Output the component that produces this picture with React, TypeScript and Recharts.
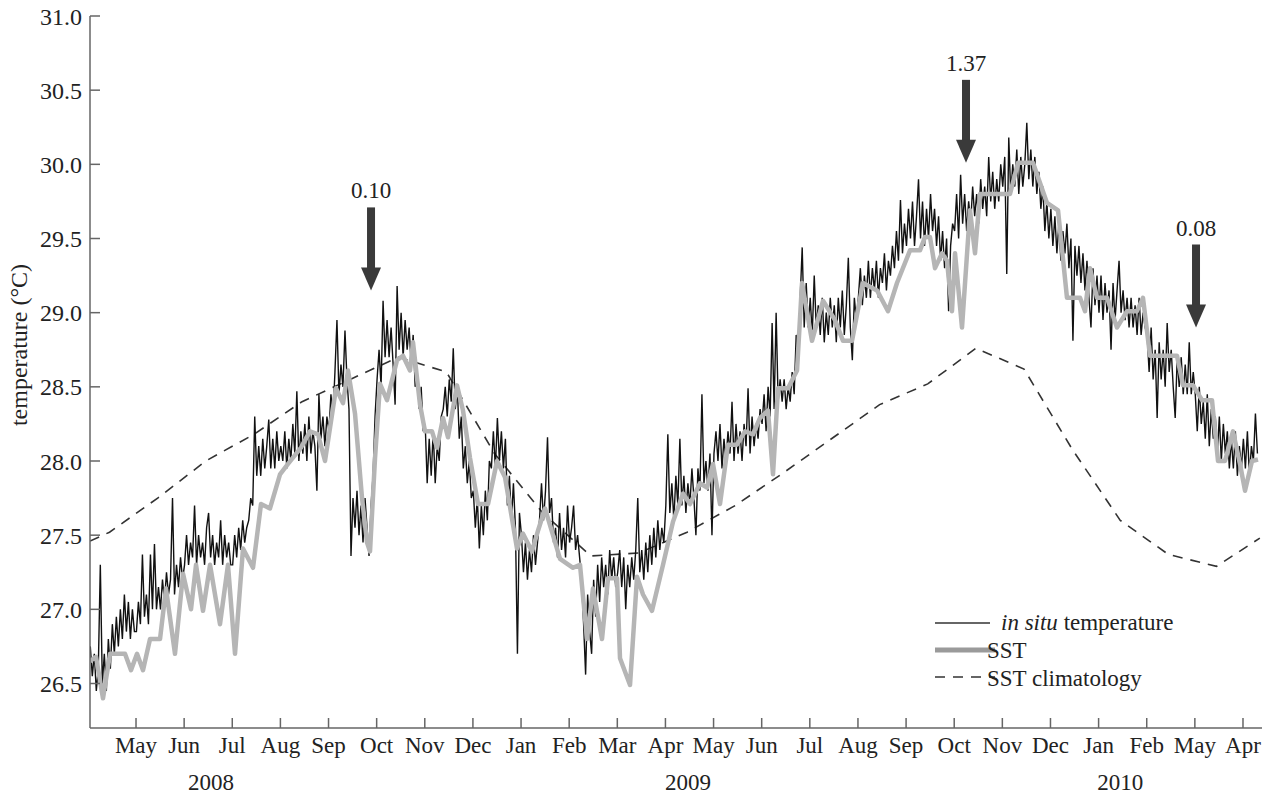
import React from "react";
import { LineChart, Line, XAxis, YAxis, ReferenceDot } from "recharts";

const FONT = "'Liberation Serif', 'Times New Roman', serif";
const INK = "#222";
const AXIS = "#666";

// x axis: months since 1 May 2008 (0 = May 2008 tick)
const monthLabels = [
  "May", "Jun", "Jul", "Aug", "Sep", "Oct", "Nov", "Dec", "Jan", "Feb", "Mar", "Apr",
  "May", "Jun", "Jul", "Aug", "Sep", "Oct", "Nov", "Dec", "Jan", "Feb", "May", "Apr",
];
const monthTicks = monthLabels.map((_, i) => i);
const yearLabels = ["2008", "2009", "2010"];
const yearPos = [1.56, 11.47, 20.45];
const tempTicks = [26.5, 27.0, 27.5, 28.0, 28.5, 29.0, 29.5, 30.0, 30.5, 31.0];
const X_DOMAIN: [number, number] = [-0.956, 23.395];

const IN_SITU_START = -0.95;
const IN_SITU_STEP = 1 / 24;
const inSitu2008 = [
  26.75, 26.55, 26.7, 26.45, 26.6, 27.3, 26.5, 26.7, 26.45, 26.8, 26.6, 26.9, 26.7, 26.95, 26.75, 27.0, 26.8, 27.1, 26.85, 27.05, 26.8, 27.0, 26.85, // Apr
  26.85, 27.05, 26.9, 27.37, 26.95, 27.1, 26.9, 27.37, 27.0, 27.44, 27.0, 27.15, 27.0, 27.2, 27.05, 27.25, 27.1, 27.2, 27.75, 27.1, 27.3, 27.15, 27.35, 27.2, // May
  27.3, 27.5, 27.3, 27.45, 27.35, 27.7, 27.3, 27.5, 27.35, 27.45, 27.3, 27.55, 27.65, 27.35, 27.5, 27.3, 27.45, 27.35, 27.6, 27.3, 27.5, 27.35, 27.45, 27.3, // Jun
  27.3, 27.5, 27.35, 27.55, 27.4, 27.6, 27.45, 27.55, 27.6, 27.75, 27.7, 28.3, 27.9, 28.1, 27.9, 28.15, 27.95, 28.1, 28.28, 27.95, 28.15, 27.95, 28.2, 28.0, // Jul
  28.1, 28.0, 28.2, 27.95, 28.15, 28.0, 28.25, 28.05, 28.47, 28.0, 28.2, 28.05, 28.25, 28.0, 28.3, 28.05, 28.2, 28.1, 27.8, 28.45, 28.15, 28.3, 28.1, 28.3, // Aug
  28.2, 28.45, 28.3, 28.6, 28.95, 28.45, 28.65, 28.5, 28.88, 28.55, 28.35, 27.36, 27.75, 27.55, 27.8, 27.5, 27.7, 27.45, 27.75, 27.55, 27.36, 27.7, 27.9, 28.3, // Sep
  28.55, 28.75, 28.5, 29.08, 28.7, 28.95, 28.7, 28.9, 28.65, 28.38, 29.18, 28.75, 29.0, 28.7, 28.95, 28.75, 28.9, 28.65, 28.85, 28.5, 28.6, 28.35, 28.5, 28.2, // Oct
  28.25, 27.85, 28.15, 27.9, 28.2, 27.85, 28.1, 28.0, 28.3, 28.35, 28.5, 28.3, 28.55, 28.4, 28.76, 28.35, 28.5, 28.15, 28.3, 27.95, 28.1, 27.85, 28.0, 27.75, // Nov
  27.8, 27.55, 27.75, 27.41, 27.7, 27.5, 27.8, 27.6, 28.0, 27.95, 28.2, 27.95, 28.29, 28.0, 28.2, 27.95, 28.15, 27.7, 27.9, 27.6, 27.85, 27.55, 26.7, 27.65, // Dec
];
const inSitu2009 = [
  27.5, 27.25, 27.45, 27.2, 27.4, 27.25, 27.5, 27.3, 27.45, 27.6, 27.85, 27.6, 27.8, 28.16, 27.65, 27.75, 27.45, 27.55, 27.35, 27.65, 27.4, 27.55, 27.35, 27.7, // Jan
  27.45, 27.55, 27.7, 27.4, 27.5, 27.35, 27.2, 26.9, 26.56, 27.1, 26.85, 26.7, 27.2, 26.95, 27.3, 27.05, 27.35, 27.15, 27.3, 27.1, 27.4, 27.2, 27.35, 27.15, // Feb
  27.25, 27.4, 27.15, 27.35, 27.0, 27.3, 27.15, 27.35, 27.2, 27.4, 27.75, 27.25, 27.4, 27.2, 27.45, 27.25, 27.5, 27.3, 27.55, 27.35, 27.6, 27.4, 27.55, 27.45, // Mar
  27.7, 28.18, 27.65, 27.85, 27.6, 27.9, 27.7, 28.15, 27.7, 27.9, 27.65, 27.85, 27.7, 27.95, 27.75, 27.5, 27.95, 27.8, 28.45, 27.85, 28.0, 27.8, 28.05, 27.5, // Apr
  28.05, 28.2, 28.0, 28.25, 27.95, 28.15, 28.0, 28.2, 28.05, 28.4, 28.0, 28.25, 28.05, 28.2, 28.0, 28.25, 28.1, 28.49, 28.05, 28.3, 28.1, 28.25, 28.15, 28.35, // May
  28.25, 28.45, 28.2, 28.5, 28.3, 28.93, 28.35, 29.0, 28.4, 28.55, 28.4, 28.55, 28.35, 28.5, 28.4, 28.6, 28.45, 28.85, 28.7, 29.1, 29.44, 28.9, 29.2, 28.9, // Jun
  29.1, 28.85, 29.25, 28.9, 29.05, 28.85, 29.1, 28.8, 29.0, 28.85, 29.1, 28.9, 29.05, 28.8, 29.1, 28.9, 29.15, 28.85, 29.05, 29.37, 28.9, 28.68, 29.1, 28.95, // Jul
  29.1, 29.3, 29.05, 29.25, 29.1, 29.35, 29.1, 29.3, 29.15, 29.35, 29.1, 29.3, 29.2, 29.4, 29.15, 29.35, 29.25, 29.45, 29.3, 29.55, 29.35, 29.76, 29.4, 29.6, // Aug
  29.45, 29.7, 29.5, 29.75, 29.45, 29.65, 29.9, 29.5, 29.75, 29.45, 29.7, 29.5, 29.8, 29.55, 29.7, 29.45, 29.65, 29.35, 29.55, 29.3, 29.5, 29.01, 29.45, 29.6, // Sep
  29.55, 29.8, 29.5, 29.93, 29.6, 29.8, 29.55, 29.75, 29.6, 29.85, 29.65, 29.8, 29.6, 29.9, 29.7, 29.85, 29.65, 30.05, 29.75, 29.95, 29.7, 29.9, 29.75, 30.0, // Oct
  29.85, 30.05, 29.26, 30.18, 29.8, 30.0, 29.85, 30.1, 29.8, 30.05, 29.85, 30.0, 30.28, 29.9, 30.1, 29.85, 30.05, 29.8, 29.95, 29.7, 29.85, 29.55, 29.75, 29.5, // Nov
  29.7, 29.45, 29.65, 29.4, 29.6, 29.35, 29.55, 29.4, 29.6, 29.3, 29.5, 28.81, 29.45, 29.25, 29.45, 29.2, 29.4, 29.15, 29.35, 29.1, 28.9, 29.3, 29.05, 29.25, // Dec
];
const inSitu2010 = [
  29.0, 29.25, 28.95, 29.2, 29.0, 29.15, 28.75, 29.2, 28.95, 29.15, 29.35, 29.0, 29.15, 28.95, 29.1, 28.9, 29.1, 28.9, 29.05, 28.85, 29.1, 28.85, 29.0, 28.9, // Jan
  28.85, 28.6, 28.9, 28.55, 28.75, 28.29, 28.8, 28.55, 28.75, 28.5, 28.93, 28.6, 28.75, 28.5, 28.29, 28.7, 28.5, 28.7, 28.45, 28.65, 28.45, 28.8, 28.45, 28.6, // Feb
  28.45, 28.2, 28.5, 28.25, 28.4, 28.15, 28.45, 28.1, 28.35, 28.15, 28.3, 28.05, 28.3, 28.0, 28.25, 28.05, 28.2, 27.95, 28.15, 27.95, 28.2, 27.9, 28.1, 27.95, // Mar
  28.15, 27.95, 28.2, 27.9, 28.1, 28.0, 28.32, 28.05, // Apr
];

// satellite SST (month index, degC)
const sstX = [
  -0.956, -0.831, -0.686, -0.54, -0.229, -0.104, 0.021, 0.145, 0.291, 0.499, 0.623, 0.81,
  0.977, 1.143, 1.247, 1.392, 1.538, 1.745, 1.911, 2.057, 2.223, 2.431, 2.597, 2.784,
  2.992, 3.158, 3.428, 3.615, 3.781, 3.927, 4.155, 4.301, 4.405, 4.55, 4.696, 4.8,
  4.862, 4.966, 5.07, 5.215, 5.423, 5.547, 5.693, 5.755, 5.901, 6.005, 6.15, 6.254,
  6.379, 6.482, 6.669, 6.794, 6.94, 7.106, 7.314, 7.501, 7.667, 7.916, 8.041, 8.228,
  8.352, 8.498, 8.81, 9.08, 9.225, 9.371, 9.495, 9.682, 9.807, 9.994, 10.056, 10.264,
  10.41, 10.534, 10.721, 10.95, 11.157, 11.365, 11.51, 11.718, 11.864, 11.988, 12.134, 12.3,
  12.487, 12.653, 12.819, 12.965, 13.131, 13.235, 13.339, 13.547, 13.734, 13.838, 14.045, 14.274,
  14.523, 14.69, 14.877, 15.105, 15.396, 15.625, 15.811, 16.082, 16.289, 16.393, 16.497, 16.601,
  16.746, 16.85, 16.954, 17.017, 17.162, 17.328, 17.432, 17.536, 18.159, 18.325, 18.637, 18.928,
  19.157, 19.343, 19.614, 19.718, 19.821, 19.967, 20.175, 20.382, 20.59, 20.798, 20.922, 21.068,
  21.629, 21.754, 21.962, 22.149, 22.356, 22.481, 22.626, 22.792, 22.938, 23.042, 23.187, 23.312,
];
const sstT = [
  26.65, 26.68, 26.4, 26.7, 26.7, 26.59, 26.7, 26.59, 26.8, 26.8, 27.14, 26.7,
  27.24, 27.0, 27.3, 26.99, 27.3, 26.9, 27.3, 26.7, 27.41, 27.28, 27.71, 27.68,
  27.91, 27.98, 28.09, 28.2, 28.18, 28.0, 28.49, 28.39, 28.61, 28.32, 27.75, 27.45,
  27.39, 28.02, 28.52, 28.41, 28.68, 28.71, 28.61, 28.8, 28.38, 28.2, 28.2, 28.09,
  28.29, 28.16, 28.51, 28.34, 28.02, 27.71, 27.71, 28.0, 27.89, 27.41, 27.51, 27.39,
  27.53, 27.68, 27.34, 27.28, 27.3, 26.8, 27.14, 26.8, 27.21, 27.21, 26.67, 26.49,
  27.22, 27.1, 26.99, 27.3, 27.59, 27.78, 27.71, 27.85, 27.82, 27.98, 27.71, 28.11,
  28.11, 28.2, 28.18, 28.29, 28.34, 27.91, 28.49, 28.49, 28.61, 29.2, 28.81, 29.08,
  28.95, 28.81, 28.81, 29.2, 29.15, 29.01, 29.2, 29.42, 29.42, 29.51, 29.51, 29.3,
  29.4, 29.35, 29.01, 29.4, 28.9, 29.69, 29.4, 29.8, 29.8, 30.01, 30.01, 29.74,
  29.69, 29.1, 29.1, 29.01, 29.3, 29.1, 29.1, 28.9, 29.01, 29.01, 29.1, 28.71,
  28.71, 28.51, 28.51, 28.41, 28.41, 28.0, 28.0, 28.2, 27.98, 27.8, 28.0, 28.01,
];

// SST climatology, monthly means plotted mid-month
const climX = [
  -0.956, -0.55, 0.45, 1.45, 2.45, 3.45, 4.45, 5.45, 6.45, 7.45, 8.45, 9.45, 10.45,
  11.45, 12.45, 13.45, 14.45, 15.45, 16.45, 17.45, 18.45, 19.45, 20.45, 21.45, 22.45, 23.35,
];
const climT = [
  27.46, 27.52, 27.75, 28.0, 28.18, 28.4, 28.55, 28.7, 28.6, 28.05, 27.65, 27.36, 27.38,
  27.52, 27.7, 27.92, 28.15, 28.38, 28.52, 28.76, 28.62, 28.08, 27.6, 27.37, 27.29, 27.48,
];

// annotation arrows
const arrowX = [4.883, 17.245, 22.024];
const arrowT = [29.15, 30.01, 28.9];
const arrowLabels = ["0.10", "1.37", "0.08"];

const inSituData = [...inSitu2008, ...inSitu2009, ...inSitu2010].map((t, i) => ({
  x: IN_SITU_START + i * IN_SITU_STEP,
  t,
}));
const sstData = sstX.map((x, i) => ({ x, t: sstT[i] }));
const climData = climX.map((x, i) => ({ x, t: climT[i] }));

const makeArrow = (label: string) => (props: any) => {
  const { cx, cy } = props;
  return (
    <g>
      <text x={cx} y={cy - 92} textAnchor="middle" fontSize={23} fontFamily={FONT} fill={INK}>
        {label}
      </text>
      <rect x={cx - 4} y={cy - 83} width={8} height={61} fill="#3a3a3a" />
      <polygon points={`${cx - 10},${cy - 23} ${cx + 10},${cy - 23} ${cx},${cy}`} fill="#3a3a3a" />
    </g>
  );
};

const tickStyle = { fill: INK, fontSize: 23, fontFamily: FONT };

function LegendBox() {
  return (
    <svg
      width={1274}
      height={794}
      style={{ position: "absolute", left: 0, top: 0, pointerEvents: "none" }}
    >
      <line x1={935} x2={990} y1={623} y2={623} stroke="#333" strokeWidth={1.6} />
      <line x1={935} x2={995} y1={650} y2={650} stroke="#9a9a9a" strokeWidth={5} />
      <line x1={935} x2={995} y1={677} y2={677} stroke="#333" strokeWidth={1.6} strokeDasharray="10 8" />
      <text x={1001} y={630} fontSize={23} fontFamily={FONT} fill={INK}>
        <tspan fontStyle="italic">in situ</tspan> temperature
      </text>
      <text x={987} y={658} fontSize={23} fontFamily={FONT} fill={INK}>
        SST
      </text>
      <text x={987} y={686} fontSize={23} fontFamily={FONT} fill={INK}>
        SST climatology
      </text>
    </svg>
  );
}

export default function App() {
  return (
    <div style={{ position: "absolute", left: 0, top: 0, width: 1274, height: 794, background: "#fff" }}>
      <LineChart
        width={1274}
        height={794}
        margin={{ top: 16, right: 12, bottom: 0, left: 0 }}
        style={{ fontFamily: FONT }}
      >
        <XAxis
          type="number"
          dataKey="x"
          domain={X_DOMAIN}
          allowDataOverflow
          ticks={monthTicks}
          interval={0}
          tickFormatter={(v: number) => monthLabels[Math.round(v)] ?? ""}
          tick={tickStyle}
          tickSize={-10}
          tickMargin={19}
          height={30}
          axisLine={{ stroke: AXIS, strokeWidth: 1.5 }}
          tickLine={{ stroke: AXIS, strokeWidth: 1.5 }}
        />
        <XAxis
          xAxisId="year"
          type="number"
          dataKey="x"
          domain={X_DOMAIN}
          allowDataOverflow
          ticks={yearPos}
          interval={0}
          tickFormatter={(v: number) => yearLabels[yearPos.indexOf(v)] ?? ""}
          tick={tickStyle}
          tickSize={0}
          tickMargin={16}
          height={36}
          axisLine={false}
          tickLine={false}
        />
        <YAxis
          type="number"
          domain={[26.2, 31]}
          allowDataOverflow
          ticks={tempTicks}
          interval={0}
          tickFormatter={(v: number) => v.toFixed(1)}
          tick={{ ...tickStyle, fontSize: 24 }}
          tickSize={-10}
          tickMargin={18}
          width={90}
          axisLine={{ stroke: AXIS, strokeWidth: 1.5 }}
          tickLine={{ stroke: AXIS, strokeWidth: 1.5 }}
          label={{
            content: () => (
              <text
                x={27}
                y={345}
                transform="rotate(-90, 27, 345)"
                textAnchor="middle"
                fontSize={24}
                fontFamily={FONT}
                fill={INK}
              >
                temperature (°C)
              </text>
            ),
          }}
        />
        <Line
          data={climData}
          dataKey="t"
          type="linear"
          stroke="#333"
          strokeWidth={1.6}
          strokeDasharray="10 8"
          dot={false}
          isAnimationActive={false}
        />
        <Line
          data={inSituData}
          dataKey="t"
          type="linear"
          stroke="#111"
          strokeWidth={1.4}
          dot={false}
          isAnimationActive={false}
        />
        <Line
          data={sstData}
          dataKey="t"
          type="linear"
          stroke="#b5b5b5"
          strokeWidth={4.5}
          strokeLinejoin="round"
          dot={false}
          isAnimationActive={false}
        />
        {arrowX.map((x, i) => (
          <ReferenceDot
            key={arrowLabels[i]}
            x={x}
            y={arrowT[i]}
            r={0}
            shape={makeArrow(arrowLabels[i])}
          />
        ))}
      </LineChart>
      <LegendBox />
    </div>
  );
}
